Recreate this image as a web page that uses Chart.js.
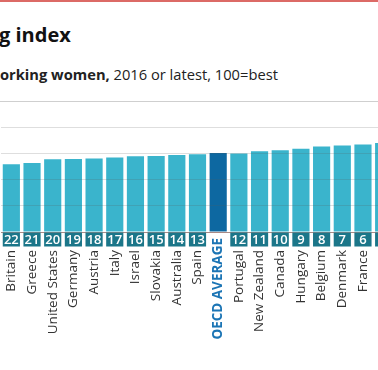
<!DOCTYPE html>
<html>
<head>
<meta charset="utf-8">
<script src="https://cdn.jsdelivr.net/npm/chart.js@4.4.0/dist/chart.umd.min.js"></script>
<style>
html, body { margin:0; padding:0; background:#fff; width:378px; height:370px; overflow:hidden; position:relative; font-family:"Open Sans", sans-serif; }
#topbar { position:absolute; left:0; top:0; width:378px; height:2px; background:#dc6a66; }
#title { position:absolute; left:-1px; top:21px; font-size:20px; font-weight:700; color:#121212; white-space:nowrap; }
#sub { position:absolute; left:0; top:64px; font-size:14.7px; color:#222; white-space:nowrap; }
#wrap { position:absolute; left:0; top:0; width:400px; height:370px; }
</style>
</head>
<body>
<div id="topbar"></div>
<div id="title">g index</div>
<div id="sub"><b>orking women,</b> 2016 or latest, 100=best</div>
<div id="wrap"><canvas id="myChart" width="400" height="370"></canvas></div>
<script>
let countries = ["Britain", "Greece", "United States", "Germany", "Austria", "Italy", "Israel", "Slovakia", "Australia", "Spain",
    "OECD AVERAGE", "Portugal", "New Zealand", "Canada", "Hungary", "Belgium", "Denmark", "France", "Poland"];
let ranks = [22, 21, 20, 19, 18, 17, 16, 15, 14, 13, null, 12, 11, 10, 9, 8, 7, 6, 5];
let scores = [51.8, 52.6, 55.6, 55.8, 56.2, 56.9, 57.9, 58.1, 58.7, 59.3, 60.4, 59.9, 61.7, 62.5, 63.5, 65.3, 66.1, 66.8, 68.0];
let yTicks = [0, 20, 40, 60, 80, 100];

const avgIndex = countries.indexOf("OECD AVERAGE");
const barColor = '#3ab4cc';
const avgColor = '#0d68a1';
const rankBox = '#1b7689';

// rank boxes under the bars and rotated country names
const labelsPlugin = {
    id: 'rankLabels',
    afterDraw(chart) {
        let ctx = chart.ctx;
        let x = chart.scales.x;
        let y = chart.scales.y;
        let meta = chart.getDatasetMeta(0);
        let base = y.getPixelForValue(0);
        ctx.save();
        // top gridline (100) sits on the chart area edge, draw it unclipped
        let top100 = Math.round(y.getPixelForValue(yTicks[yTicks.length - 1])) + 0.5;
        ctx.strokeStyle = '#cfcfcf';
        ctx.lineWidth = 1;
        ctx.beginPath();
        ctx.moveTo(0, top100);
        ctx.lineTo(chart.width, top100);
        ctx.stroke();
        for (let i = 0; i < countries.length; i++) {
            let cx = x.getPixelForValue(i);
            let w = meta.data[i].width;
            if (ranks[i] !== null) {
                ctx.fillStyle = rankBox;
                ctx.fillRect(cx - w / 2, base + 0.5, w, 14);
                ctx.fillStyle = '#fff';
                ctx.font = '600 13px "Open Sans"';
                ctx.textAlign = 'center';
                ctx.textBaseline = 'middle';
                ctx.fillText(String(ranks[i]), cx, base + 8);
            }
            ctx.save();
            let top = i === avgIndex ? base + 6 : base + 18;
            ctx.translate(cx, top);
            ctx.rotate(-Math.PI / 2);
            ctx.textAlign = 'right';
            ctx.textBaseline = 'middle';
            if (i === avgIndex) {
                ctx.font = 'bold 13.5px "Open Sans"';
                ctx.fillStyle = '#1c75b5';
            } else {
                ctx.font = '13.5px "Open Sans"';
                ctx.fillStyle = '#333';
            }
            ctx.fillText(countries[i], 0, 0);
            ctx.restore();
        }
        ctx.restore();
    }
};

document.addEventListener('DOMContentLoaded', e => {
    let ctx = document.getElementById('myChart').getContext('2d');
    new Chart(ctx, {
        type: 'bar',
        data: {
            labels: countries,
            datasets: [{
                data: scores,
                backgroundColor: c => c.dataIndex === avgIndex ? avgColor : barColor,
                borderWidth: 0,
                barPercentage: 0.83,
                categoryPercentage: 1
            }]
        },
        options: {
            responsive: false,
            animation: false,
            layout: { padding: { top: 101, left: 1, right: 6, bottom: 138 } },
            plugins: { legend: { display: false }, tooltip: { enabled: false } },
            scales: {
                x: { display: false },
                y: {
                    min: 0,
                    max: 100,
                    afterBuildTicks: s => { s.ticks = yTicks.map(v => ({ value: v })); },
                    afterFit: s => { s.width = 0; },
                    ticks: { display: false },
                    border: { display: false },
                    grid: {
                        z: 1,
                        drawTicks: false,
                        lineWidth: 1,
                        color: c => c.tick && c.tick.value === 0 ? '#a98a86' : 'rgba(90,90,90,0.2)'
                    }
                }
            }
        },
        plugins: [labelsPlugin]
    });
});
</script>
</body>
</html>
